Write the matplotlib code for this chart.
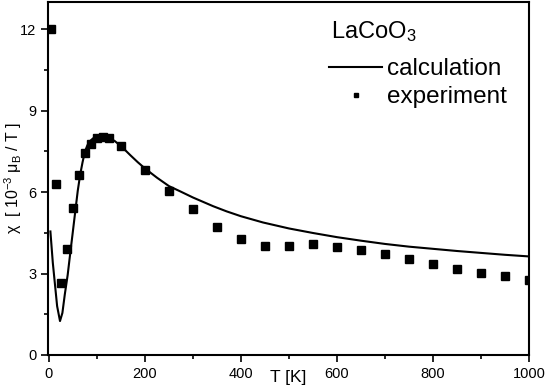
import numpy as np
import matplotlib.pyplot as plt
from matplotlib.ticker import MultipleLocator

plt.rcParams['font.family'] = ['Liberation Sans', 'DejaVu Sans']
plt.rcParams['mathtext.fontset'] = 'custom'
plt.rcParams['mathtext.rm'] = 'Liberation Sans'
plt.rcParams['mathtext.it'] = 'Liberation Sans'

# experiment (squares)
T_exp = [5, 14, 25, 37, 50, 63, 75, 87, 100, 113, 125, 150, 200, 250, 300, 350, 400,
         450, 500, 550, 600, 650, 700, 750, 800, 850, 900, 950, 1000]
chi_exp = [12.0, 6.3, 2.65, 3.9, 5.42, 6.62, 7.44, 7.77, 7.99, 8.04, 7.99, 7.7, 6.8,
           6.05, 5.36, 4.73, 4.29, 4.03, 4.03, 4.09, 3.97, 3.86, 3.71, 3.54, 3.35,
           3.15, 3.03, 2.9, 2.78]

# calculation (line)
T_calc = [3, 8, 12.5, 17, 23, 28, 33, 39, 44, 49, 54, 60, 65, 70, 75, 80, 85, 92,
          103, 114, 124, 137, 151, 170, 185, 200, 225, 250, 273, 300, 342, 370, 400,
          446, 500, 551, 600, 650, 700, 750, 800, 850, 900, 950, 1000]
chi_calc = [4.55, 3.4, 2.6, 1.8, 1.25, 1.55, 2.23, 2.95, 3.7, 4.43, 5.17, 6.05, 6.64,
            7.1, 7.5, 7.72, 7.87, 7.98, 8.05, 8.05, 8.01, 7.88, 7.68, 7.35, 7.1, 6.87,
            6.53, 6.22, 6.03, 5.8, 5.48, 5.29, 5.11, 4.88, 4.66, 4.49, 4.34, 4.21,
            4.09, 3.99, 3.91, 3.83, 3.76, 3.69, 3.63]

legend_title = 'LaCoO$_3$'

fig = plt.figure(figsize=(5.45, 3.88), dpi=100)
ax = fig.add_axes([48 / 545, 1 - 355 / 388, 481 / 545, 353 / 388])

ax.plot(T_calc, chi_calc, '-', color='black', lw=1.5, label='calculation')
ax.plot(T_exp, chi_exp, 's', color='black', ms=5.2, ls='none', label='experiment')

ax.set_xlim(-2, 1000)
ax.set_ylim(0, 13)
ax.xaxis.set_major_locator(MultipleLocator(200))
ax.xaxis.set_minor_locator(MultipleLocator(100))
ax.yaxis.set_major_locator(MultipleLocator(3))
ax.yaxis.set_minor_locator(MultipleLocator(1.5))
ax.tick_params(which='both', direction='out', labelsize=10.5, width=1.2)
ax.tick_params(which='major', length=5)
ax.tick_params(which='minor', length=3)
for s in ax.spines.values():
    s.set_linewidth(1.5)

ax.set_xlabel('T [K]', fontsize=12.5, labelpad=-8)
ax.set_ylabel(r'$\chi$  [ 10$^{-3}$ $\mu_{\rm B}$ / T ]', fontsize=11.5)
ax.yaxis.set_label_coords(-0.05, 0.5)

fig.text(331 / 545, 1 - 38.5 / 388, legend_title, fontsize=17, va='baseline', ha='left')
ax.legend(loc='upper left', bbox_to_anchor=(329 / 545, 1 - 58 / 388),
          bbox_transform=fig.transFigure, frameon=False, fontsize=17.5,
          handlelength=2.2, handletextpad=0.2, markerscale=0.55,
          labelspacing=0.25, borderpad=0, borderaxespad=0)

fig.savefig('out.png', dpi=100)
